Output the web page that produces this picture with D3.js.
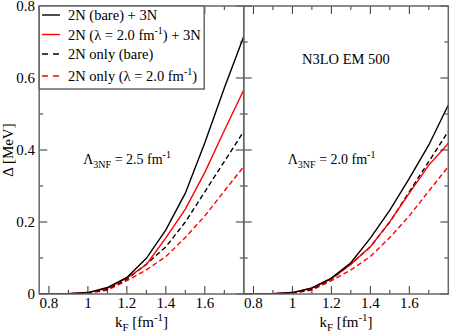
<!DOCTYPE html>
<html>
<head>
<meta charset="UTF-8">
<script src="https://d3js.org/d3.v7.min.js"></script>
<style>
  body { margin: 0; background: #fff; }
  text { font-family: "Liberation Serif", "DejaVu Serif", serif; fill: #000; }
</style>
</head>
<body>
<svg id="chart" width="450" height="335"></svg>
<script>
// kF grid [fm^-1]
var kF = [0.75, 0.8, 0.9, 1.0, 1.1, 1.2, 1.3, 1.4, 1.5, 1.6, 1.7, 1.8];

// 2N only curves are the same in both panels
var twoNBare   = [0, 0, 0.0004, 0.003, 0.013, 0.041, 0.083, 0.131, 0.200, 0.284, 0.368, 0.452];
var twoNSrg    = [0, 0, 0.0003, 0.002, 0.011, 0.037, 0.067, 0.104, 0.157, 0.217, 0.286, 0.354];

// Lambda_3NF = 2.5 fm^-1
var bare3N_25  = [0, 0, 0.0005, 0.004, 0.018, 0.046, 0.099, 0.178, 0.280, 0.420, 0.572, 0.716];
var srg3N_25   = [0, 0, 0.0005, 0.004, 0.016, 0.044, 0.082, 0.156, 0.236, 0.338, 0.454, 0.567];

// Lambda_3NF = 2.0 fm^-1
var bare3N_20  = [0, 0, 0.0005, 0.004, 0.017, 0.044, 0.087, 0.155, 0.233, 0.321, 0.414, 0.525];
var srg3N_20   = [0, 0, 0.0005, 0.004, 0.016, 0.042, 0.083, 0.131, 0.201, 0.280, 0.358, 0.418];

var xTicks = [0.8, 1.0, 1.2, 1.4, 1.6];
var xMinor = [0.8, 0.9, 1.0, 1.1, 1.2, 1.3, 1.4, 1.5, 1.6, 1.7];
var yTicks = [0, 0.2, 0.4, 0.6, 0.8];
var yMinor = [0.1, 0.3, 0.5, 0.7];

var legendLabels = [
  {text: ["2N (bare) + 3N"], color: "#000", dash: null},
  {text: ["2N (\u03bb = 2.0 fm", "-1", ") + 3N"], color: "red", dash: null},
  {text: ["2N only (bare)"], color: "#000", dash: "5,3"},
  {text: ["2N only (\u03bb = 2.0 fm", "-1", ")"], color: "red", dash: "5,3"}
];

var panels = [
  {x0: 39.2, lam: "2.5", series: [bare3N_25, srg3N_25, twoNBare, twoNSrg]},
  {x0: 243.7, lam: "2.0", series: [bare3N_20, srg3N_20, twoNBare, twoNSrg]}
];
var styles = [
  {color: "#000", dash: null},
  {color: "red", dash: null},
  {color: "#000", dash: "5,3"},
  {color: "red", dash: "5,3"}
];

var svg = d3.select("#chart");
var plotTop = 6, plotBottom = 294, pw = 204.6;
var frameColor = "#666";

var y = d3.scaleLinear().domain([0, 0.8]).range([plotBottom, plotTop]);

panels.forEach(function (p, pi) {
  var x = d3.scaleLinear().domain([0.75, 1.8]).range([p.x0, p.x0 + pw]);
  var g = svg.append("g");

  g.append("clipPath").attr("id", "clip" + pi)
    .append("rect").attr("x", p.x0).attr("y", plotTop).attr("width", pw).attr("height", plotBottom - plotTop);

  var line = d3.line().x(function (d, i) { return x(kF[i]); }).y(function (d) { return y(d); });

  // draw dashed first, then solid on top
  [3, 2, 1, 0].forEach(function (si) {
    g.append("path")
      .datum(p.series[si])
      .attr("clip-path", "url(#clip" + pi + ")")
      .attr("d", line)
      .attr("fill", "none")
      .attr("stroke", styles[si].color)
      .attr("stroke-width", 1.4)
      .attr("stroke-dasharray", styles[si].dash);
  });

  // ticks on all four sides, pointing inward
  xMinor.forEach(function (v) {
    var major = xTicks.some(function (t) { return Math.abs(t - v) < 1e-6; });
    var len = major ? 8 : 4;
    g.append("line").attr("x1", x(v)).attr("x2", x(v)).attr("y1", plotBottom).attr("y2", plotBottom - len)
      .attr("stroke", "#333").attr("stroke-width", 1);
    g.append("line").attr("x1", x(v)).attr("x2", x(v)).attr("y1", plotTop).attr("y2", plotTop + len)
      .attr("stroke", "#333").attr("stroke-width", 1);
  });
  yTicks.concat(yMinor).forEach(function (v) {
    var len = yTicks.indexOf(v) >= 0 ? 8 : 4;
    g.append("line").attr("x1", p.x0).attr("x2", p.x0 + len).attr("y1", y(v)).attr("y2", y(v))
      .attr("stroke", "#333").attr("stroke-width", 1);
    g.append("line").attr("x1", p.x0 + pw).attr("x2", p.x0 + pw - len).attr("y1", y(v)).attr("y2", y(v))
      .attr("stroke", "#333").attr("stroke-width", 1);
  });

  // x tick labels
  g.selectAll(".xl").data(xTicks).enter().append("text")
    .attr("x", function (d) { return x(d); })
    .attr("y", 308)
    .attr("text-anchor", "middle")
    .style("font-size", "15px")
    .text(function (d) { return d === 1 ? "1" : d3.format(".1f")(d); });

  // x axis title
  var xt = g.append("text").attr("x", p.x0 + pw / 2).attr("y", 327).attr("text-anchor", "middle")
    .style("font-size", "15px");
  xt.append("tspan").text("k");
  xt.append("tspan").attr("dy", 4).style("font-size", "11px").text("F");
  xt.append("tspan").attr("dy", -4).text(" [fm");
  xt.append("tspan").attr("dy", -6).style("font-size", "11px").text("-1");
  xt.append("tspan").attr("dy", 6).text("]");

  // Lambda_3NF label
  var lt = g.append("text").attr("x", p.x0 + 44).attr("y", 164).style("font-size", "14px");
  lt.append("tspan").text("\u039b");
  lt.append("tspan").attr("dy", 4).style("font-size", "10px").text("3NF");
  lt.append("tspan").attr("dy", -4).text(" = " + p.lam + " fm");
  lt.append("tspan").attr("dy", -6).style("font-size", "10px").text("-1");

  // frame
  g.append("rect").attr("x", p.x0).attr("y", plotTop).attr("width", pw).attr("height", plotBottom - plotTop)
    .attr("fill", "none").attr("stroke", frameColor).attr("stroke-width", 1.5);
});

// y tick labels
svg.selectAll(".yl").data(yTicks).enter().append("text")
  .attr("x", 35)
  .attr("y", function (d) { return y(d) + 5; })
  .attr("text-anchor", "end")
  .style("font-size", "15px")
  .text(function (d) { return d === 0 ? "0" : d3.format(".1f")(d); });

// y axis title
svg.append("text")
  .attr("transform", "translate(13,150) rotate(-90)")
  .attr("text-anchor", "middle")
  .style("font-size", "15px")
  .text("\u0394 [MeV]");

// model label
svg.append("text").attr("x", 302).attr("y", 64).style("font-size", "14.5px").text("N3LO EM 500");

// legend
var lg = svg.append("g");
lg.append("rect").attr("x", 39.2).attr("y", 6).attr("width", 165).attr("height", 83)
  .attr("fill", "#fff").attr("stroke", frameColor).attr("stroke-width", 1.5);
var rowY = [15, 34.5, 54, 76];
legendLabels.forEach(function (d, i) {
  lg.append("line").attr("x1", 42).attr("x2", 60).attr("y1", rowY[i]).attr("y2", rowY[i])
    .attr("stroke", d.color).attr("stroke-width", 1.4)
    .attr("stroke-dasharray", d.dash ? "6,5" : null);
  var t = lg.append("text").attr("x", 68).attr("y", rowY[i] + 5).style("font-size", "14.5px");
  t.append("tspan").text(d.text[0]);
  if (d.text.length > 1) {
    t.append("tspan").attr("dy", -6).style("font-size", "10px").text(d.text[1]);
    t.append("tspan").attr("dy", 6).text(d.text[2]);
  }
});
</script>
</body>
</html>
